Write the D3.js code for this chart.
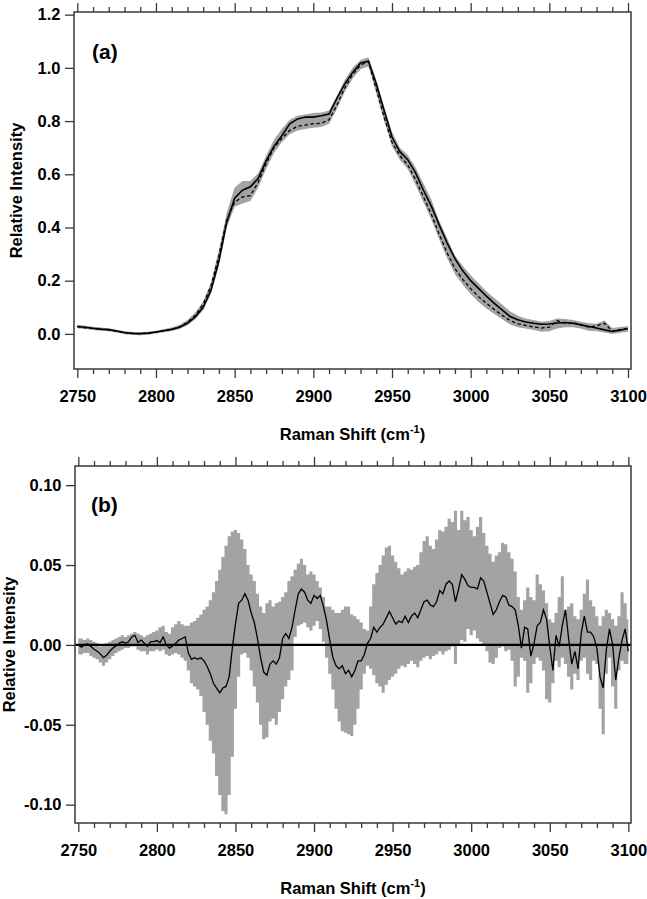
<!DOCTYPE html>
<html>
<head>
<meta charset="utf-8">
<script src="https://cdn.jsdelivr.net/npm/d3@7"></script>
<style>
  body { margin: 0; background: #fff; }
  text { font-family: "Liberation Sans", Arial, Helvetica, sans-serif; font-weight: bold; fill: #000; }
</style>
</head>
<body>
<svg id="chart" width="647" height="899"></svg>
<script>
// ---- panel (a): spectra, sampled every 5 cm-1 from 2750 to 3100 ----
const shiftA = d3.range(2750, 3101, 5);

const meanA = [
  0.028, 0.025, 0.021, 0.018, 0.016, 0.011, 0.005, 0.002, 0.001, 0.003,
  0.007, 0.012, 0.017, 0.025, 0.040, 0.064, 0.100, 0.165, 0.275, 0.420,
  0.510, 0.540, 0.553, 0.585, 0.650, 0.705, 0.745, 0.790, 0.808, 0.815,
  0.815, 0.820, 0.826, 0.885, 0.940, 0.983, 1.018, 1.025, 0.940, 0.840,
  0.740, 0.685, 0.655, 0.605, 0.540, 0.480, 0.410, 0.342, 0.283, 0.237,
  0.200, 0.171, 0.142, 0.115, 0.090, 0.065, 0.053, 0.045, 0.040, 0.036,
  0.037, 0.041, 0.043, 0.040, 0.034, 0.028, 0.022, 0.015, 0.009, 0.014,
  0.020
];

const dashedA = [
  0.027, 0.023, 0.020, 0.017, 0.015, 0.010, 0.004, 0.002, 0.001, 0.003,
  0.007, 0.012, 0.017, 0.026, 0.043, 0.070, 0.112, 0.180, 0.295, 0.430,
  0.495, 0.515, 0.520, 0.570, 0.640, 0.700, 0.735, 0.765, 0.780, 0.785,
  0.790, 0.792, 0.805, 0.860, 0.925, 0.975, 1.010, 1.025, 0.920, 0.815,
  0.720, 0.670, 0.635, 0.580, 0.515, 0.450, 0.375, 0.305, 0.245, 0.205,
  0.170, 0.140, 0.115, 0.092, 0.070, 0.050, 0.038, 0.032, 0.026, 0.022,
  0.025, 0.050, 0.040, 0.042, 0.035, 0.026, 0.030, 0.040, 0.010, 0.016,
  0.020
];

const lowA = [
  0.021, 0.018, 0.015, 0.012, 0.010, 0.005, -0.001, -0.004, -0.005, -0.003,
  0.001, 0.006, 0.011, 0.018, 0.032, 0.055, 0.090, 0.150, 0.255, 0.400,
  0.478, 0.490, 0.500, 0.550, 0.620, 0.680, 0.720, 0.750, 0.765, 0.770,
  0.775, 0.778, 0.790, 0.845, 0.910, 0.960, 0.995, 1.005, 0.905, 0.800,
  0.705, 0.655, 0.620, 0.560, 0.495, 0.430, 0.355, 0.285, 0.225, 0.185,
  0.150, 0.120, 0.095, 0.075, 0.055, 0.035, 0.025, 0.020, 0.015, 0.008,
  0.010, 0.020, 0.025, 0.025, 0.020, 0.012, 0.010, 0.005, 0.000, 0.004,
  0.008
];

const highA = [
  0.034, 0.031, 0.027, 0.024, 0.021, 0.016, 0.010, 0.007, 0.006, 0.008,
  0.012, 0.018, 0.024, 0.034, 0.052, 0.080, 0.122, 0.195, 0.315, 0.455,
  0.550, 0.575, 0.575, 0.605, 0.670, 0.730, 0.770, 0.805, 0.820, 0.825,
  0.830, 0.832, 0.840, 0.895, 0.955, 1.000, 1.030, 1.040, 0.955, 0.855,
  0.760, 0.700, 0.672, 0.625, 0.565, 0.505, 0.425, 0.360, 0.295, 0.255,
  0.220, 0.190, 0.160, 0.135, 0.110, 0.085, 0.068, 0.058, 0.052, 0.046,
  0.048, 0.058, 0.056, 0.052, 0.046, 0.040, 0.038, 0.050, 0.022, 0.026,
  0.030
];

// ---- panel (b): difference spectrum, sampled every 2 cm-1 from 2750 to 3100 ----
const shiftB = d3.range(2750, 3101, 2);

const diffB = [
  0.000, -0.0015, 0.000, 0.0006, -0.001, -0.0027, -0.004, -0.0056, -0.008, -0.0065,
  -0.004, -0.002, -0.0006, 0.001, 0.002, 0.001, 0.002, 0.005, 0.006, 0.0015,
  0.003, 0.001, -0.001, 0.002, 0.002, 0.0027, 0.0015, 0.005, 0.000, -0.002,
  -0.0006, 0.001, 0.003, 0.004, 0.005, -0.005, -0.009, -0.008, -0.009, -0.008,
  -0.010, -0.0135, -0.018, -0.024, -0.027, -0.030, -0.027, -0.026, -0.020, -0.002,
  0.013, 0.026, 0.028, 0.032, 0.028, 0.020, 0.014, 0.004, -0.008, -0.017,
  -0.019, -0.012, -0.010, -0.012, -0.008, 0.004, 0.007, 0.004, 0.011, 0.022,
  0.032, 0.035, 0.033, 0.028, 0.026, 0.031, 0.029, 0.031, 0.024, 0.015,
  0.003, -0.008, -0.013, -0.015, -0.013, -0.018, -0.016, -0.020, -0.016, -0.010,
  -0.010, -0.006, 0.001, 0.004, 0.011, 0.008, 0.011, 0.013, 0.017, 0.021,
  0.017, 0.013, 0.015, 0.014, 0.018, 0.014, 0.018, 0.020, 0.017, 0.022,
  0.027, 0.028, 0.025, 0.024, 0.027, 0.034, 0.032, 0.038, 0.040, 0.038,
  0.027, 0.035, 0.044, 0.041, 0.037, 0.036, 0.036, 0.035, 0.042, 0.040,
  0.033, 0.026, 0.019, 0.022, 0.027, 0.031, 0.030, 0.025, 0.024, 0.022,
  0.012, -0.002, 0.011, 0.010, -0.007, 0.001, 0.012, 0.014, 0.022, 0.016,
  -0.001, -0.016, 0.006, -0.001, 0.012, 0.022, 0.004, -0.012, -0.004, -0.015,
  0.007, 0.018, 0.008, 0.008, 0.005, -0.002, -0.020, -0.027, -0.003, 0.010,
  0.000, -0.022, -0.008, 0.003, 0.010, -0.004
];

const highB = [
  0.004, 0.004, 0.003, 0.004, 0.003, 0.002, 0.001, -0.001, 0.000, 0.001,
  0.002, 0.003, 0.004, 0.005, 0.006, 0.005, 0.006, 0.007, 0.008, 0.007,
  0.006, 0.005, 0.006, 0.007, 0.008, 0.009, 0.011, 0.012, 0.008, 0.007,
  0.011, 0.013, 0.015, 0.013, 0.012, 0.012, 0.014, 0.015, 0.017, 0.019,
  0.022, 0.024, 0.028, 0.033, 0.040, 0.047, 0.055, 0.062, 0.068, 0.071,
  0.072, 0.070, 0.066, 0.060, 0.050, 0.044, 0.040, 0.032, 0.024, 0.020,
  0.026, 0.028, 0.024, 0.026, 0.027, 0.030, 0.033, 0.040, 0.043, 0.047,
  0.051, 0.054, 0.050, 0.044, 0.046, 0.044, 0.040, 0.036, 0.030, 0.024,
  0.024, 0.022, 0.020, 0.020, 0.022, 0.024, 0.024, 0.019, 0.018, 0.016,
  0.014, 0.010, 0.009, 0.024, 0.038, 0.045, 0.050, 0.056, 0.061, 0.062,
  0.056, 0.052, 0.048, 0.044, 0.046, 0.048, 0.047, 0.049, 0.050, 0.058,
  0.065, 0.068, 0.062, 0.060, 0.066, 0.072, 0.071, 0.074, 0.079, 0.077,
  0.084, 0.072, 0.084, 0.078, 0.080, 0.072, 0.068, 0.074, 0.080, 0.070,
  0.062, 0.057, 0.052, 0.056, 0.058, 0.064, 0.063, 0.058, 0.054, 0.046,
  0.030, 0.022, 0.028, 0.036, 0.030, 0.028, 0.044, 0.038, 0.034, 0.026,
  0.016, 0.014, 0.020, 0.030, 0.043, 0.022, 0.024, 0.026, 0.018, 0.016,
  0.022, 0.032, 0.041, 0.028, 0.024, 0.018, 0.012, 0.018, 0.022, 0.020,
  0.016, 0.012, 0.018, 0.033, 0.026, 0.016
];

const lowB = [
  -0.006, -0.006, -0.005, -0.005, -0.007, -0.008, -0.009, -0.011, -0.013, -0.011,
  -0.009, -0.007, -0.005, -0.004, -0.003, -0.002, -0.002, -0.001, -0.001, -0.003,
  -0.004, -0.004, -0.006, -0.004, -0.004, -0.003, -0.004, -0.003, -0.006, -0.007,
  -0.006, -0.005, -0.006, -0.008, -0.010, -0.016, -0.024, -0.026, -0.028, -0.032,
  -0.042, -0.050, -0.060, -0.068, -0.082, -0.094, -0.104, -0.106, -0.094, -0.070,
  -0.040, -0.020, -0.006, -0.005, -0.008, -0.016, -0.026, -0.036, -0.050, -0.059,
  -0.058, -0.048, -0.046, -0.050, -0.042, -0.034, -0.026, -0.022, -0.016, 0.005,
  0.012, 0.013, 0.014, 0.011, 0.009, 0.012, 0.015, 0.010, 0.002, -0.008,
  -0.018, -0.028, -0.040, -0.048, -0.054, -0.055, -0.056, -0.057, -0.050, -0.040,
  -0.028, -0.018, -0.013, -0.015, -0.019, -0.024, -0.026, -0.030, -0.025, -0.022,
  -0.020, -0.018, -0.015, -0.013, -0.014, -0.012, -0.010, -0.012, -0.014, -0.010,
  -0.008, -0.007, -0.009, -0.007, -0.006, -0.004, -0.006, -0.004, -0.003, -0.001,
  -0.012, 0.000, 0.003, 0.002, 0.010, 0.006, 0.009, 0.004, 0.002, 0.000,
  -0.004, -0.011, -0.012, -0.008, -0.002, -0.001, -0.004, -0.003, -0.010, -0.026,
  -0.020, -0.008, -0.010, -0.030, -0.024, -0.012, -0.008, -0.010, -0.016, -0.034,
  -0.036, -0.024, -0.010, -0.014, -0.008, -0.012, -0.020, -0.028, -0.018, -0.022,
  -0.010, -0.008, -0.018, -0.022, -0.010, -0.012, -0.040, -0.056, -0.018, -0.008,
  -0.026, -0.040, -0.016, -0.010, -0.012, -0.012
];

// ---- axis ticks ----
const xMajor = [2750, 2800, 2850, 2900, 2950, 3000, 3050, 3100];
const xMinor = d3.range(2760, 3100, 10).filter((v) => v % 50 !== 0);
const yTicksA = [0.0, 0.2, 0.4, 0.6, 0.8, 1.0, 1.2];
const yTicksB = [-0.10, -0.05, 0.00, 0.05, 0.10];

const GRAY = "#a3a3a3";
const AXIS = "#383838";

const svg = d3.select("#chart");

function drawAxes(g, box, x, y, yTicks, yFmt, ylabelX, titleBaseline) {
  const major = 9, minor = 5;

  const bottom = g.append("g").attr("transform", `translate(0,${box.bottom})`);
  bottom.call(d3.axisBottom(x).tickValues(xMajor).tickSize(major).tickPadding(12).tickFormat(d3.format("d")));
  bottom.append("g").call(d3.axisBottom(x).tickValues(xMinor).tickSize(minor).tickFormat(""));

  const top = g.append("g").attr("transform", `translate(0,${box.top})`);
  top.call(d3.axisTop(x).tickValues(xMajor).tickSize(major).tickFormat(""));
  top.append("g").call(d3.axisTop(x).tickValues(xMinor).tickSize(minor).tickFormat(""));

  const left = g.append("g").attr("transform", `translate(${box.left},0)`);
  left.call(d3.axisLeft(y).tickValues(yTicks).tickSize(major).tickPadding(4.5).tickFormat(yFmt));

  g.selectAll(".domain").remove();
  g.selectAll(".tick line").attr("stroke", AXIS).attr("stroke-width", 1.3);
  g.selectAll(".tick text")
    .attr("font-size", 16.5)
    .attr("font-family", "'Liberation Sans', Arial, sans-serif")
    .attr("font-weight", "bold")
    .attr("fill", "#000");

  g.append("rect")
    .attr("x", box.left)
    .attr("y", box.top)
    .attr("width", box.right - box.left)
    .attr("height", box.bottom - box.top)
    .attr("fill", "none")
    .attr("stroke", AXIS)
    .attr("stroke-width", 1.5);

  const xt = g.append("text")
    .attr("x", (box.left + box.right) / 2)
    .attr("y", titleBaseline)
    .attr("text-anchor", "middle")
    .attr("font-size", 16.5);
  xt.append("tspan").text("Raman Shift (cm");
  xt.append("tspan").attr("font-size", 11).attr("dy", -7).text("-1");
  xt.append("tspan").attr("dy", 7).text(")");

  g.append("text")
    .attr("transform", `translate(${ylabelX},${(box.top + box.bottom) / 2}) rotate(-90)`)
    .attr("text-anchor", "middle")
    .attr("font-size", 16.5)
    .text("Relative Intensity");
}

// ---------- panel (a) ----------
{
  const box = { left: 74, right: 631, top: 12, bottom: 369 };
  const x = d3.scaleLinear().domain([2747.9, 3101.9]).range([box.left, box.right]);
  const y = d3.scaleLinear().domain([-0.132, 1.21]).range([box.bottom, box.top]);
  const g = svg.append("g");

  const rows = shiftA.map((s, i) => ({ s, mean: meanA[i], dash: dashedA[i], lo: lowA[i], hi: highA[i] }));

  g.append("path")
    .datum(rows)
    .attr("fill", GRAY)
    .attr("d", d3.area().x((d) => x(d.s)).y0((d) => y(d.lo)).y1((d) => y(d.hi)));

  g.append("path")
    .datum(rows)
    .attr("fill", "none")
    .attr("stroke", "#000")
    .attr("stroke-width", 1.3)
    .attr("stroke-dasharray", "3.5,2.5")
    .attr("d", d3.line().x((d) => x(d.s)).y((d) => y(d.dash)));

  g.append("path")
    .datum(rows)
    .attr("fill", "none")
    .attr("stroke", "#000")
    .attr("stroke-width", 1.6)
    .attr("d", d3.line().x((d) => x(d.s)).y((d) => y(d.mean)));

  drawAxes(g, box, x, y, yTicksA, d3.format(".1f"), 22, 440);

  g.append("text").attr("x", 92).attr("y", 58.5).attr("font-size", 21).text("(a)");
}

// ---------- panel (b) ----------
{
  const box = { left: 75, right: 631, top: 466, bottom: 823 };
  const x = d3.scaleLinear().domain([2747.9, 3101.7]).range([box.left, box.right]);
  const y = d3.scaleLinear().domain([-0.1115, 0.112]).range([box.bottom, box.top]);
  const g = svg.append("g");

  const rows = shiftB.map((s, i) => ({ s, diff: diffB[i], lo: lowB[i], hi: highB[i] }));

  g.append("path")
    .datum(rows)
    .attr("fill", GRAY)
    .attr("d", d3.area().curve(d3.curveStep).x((d) => x(d.s)).y0((d) => y(d.lo)).y1((d) => y(d.hi)));

  g.append("line")
    .attr("x1", box.left)
    .attr("x2", box.right)
    .attr("y1", y(0))
    .attr("y2", y(0))
    .attr("stroke", "#000")
    .attr("stroke-width", 2.2);

  g.append("path")
    .datum(rows)
    .attr("fill", "none")
    .attr("stroke", "#000")
    .attr("stroke-width", 1.3)
    .attr("d", d3.line().x((d) => x(d.s)).y((d) => y(d.diff)));

  const fmtB = (v) => d3.format(".2f")(v).replace("\u2212", "-");
  drawAxes(g, box, x, y, yTicksB, fmtB, 14.5, 894);

  g.append("text").attr("x", 91).attr("y", 512).attr("font-size", 21).text("(b)");
}
</script>
</body>
</html>
